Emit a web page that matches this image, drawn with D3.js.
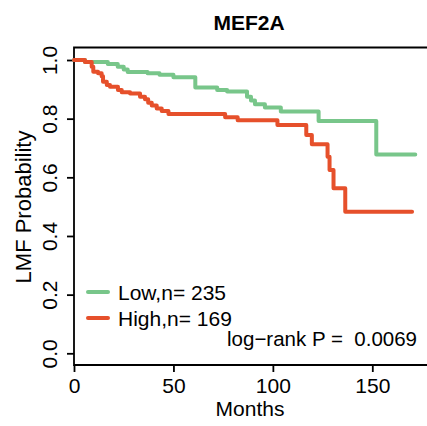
<!DOCTYPE html>
<meta charset="utf-8">
<html>
<head>
  <title>MEF2A</title>
  <script src="https://cdn.jsdelivr.net/npm/d3@7"></script>
  <style>
    body { margin: 0; background: #fff; }
    svg { font-family: 'Liberation Sans', Arial, sans-serif; }
  </style>
</head>
<body>
<script>

  // survival steps
  var lowTimes = [0, 5.5, 17, 22, 25, 27, 37, 43, 50, 61, 72, 77, 87, 89, 91, 96, 104, 123, 152, 171.6];
  var lowSurv  = [1.0, 0.993, 0.986, 0.977, 0.968, 0.959, 0.955, 0.950, 0.941, 0.906, 0.898, 0.893, 0.875, 0.862, 0.849, 0.838, 0.824, 0.792, 0.678, 0.678];

  var highTimes = [0, 5.5, 8.9, 9.7, 12.1, 13.9, 14.6, 16.5, 18.1, 22.1, 24, 28.2, 33.2, 35.7, 37.3, 39.1, 41.6, 44.1, 47.5, 76, 82.3, 102.3, 116.8, 119.6, 127.5, 128.5, 130.5, 136.4, 170];
  var highSurv  = [1.0, 0.993, 0.977, 0.960, 0.955, 0.945, 0.926, 0.915, 0.909, 0.898, 0.890, 0.886, 0.875, 0.866, 0.854, 0.845, 0.835, 0.826, 0.816, 0.805, 0.795, 0.778, 0.744, 0.713, 0.670, 0.625, 0.563, 0.483, 0.483];

  var xTicks = [0, 50, 100, 150];
  var yTicks = [0, 0.2, 0.4, 0.6, 0.8, 1.0];
  var groupNames = ["Low,n= 235", "High,n= 169"];
  var groupColors = ["#78c68a", "#e6502b"];

  var svg = d3.select("body").append("svg")
      .attr("width", 427)
      .attr("height", 426);

  var x = d3.scaleLinear().domain([0, 150]).range([74, 372.3]);
  var y = d3.scaleLinear().domain([0, 1]).range([353.3, 60]);

  //box (right side runs off the picture)
  svg.append("path")
      .attr("d", "M430,47.5H74V365H430")
      .attr("fill", "none")
      .attr("stroke", "#000")
      .attr("stroke-width", 1.8);

  //axes
  var xAxis = svg.append("g")
      .attr("transform", "translate(0,365)")
      .call(d3.axisBottom(x).tickValues(xTicks).tickSize(7).tickPadding(6).tickFormat(d3.format("d")));
  var yAxis = svg.append("g")
      .attr("transform", "translate(74,0)")
      .call(d3.axisLeft(y).tickValues(yTicks).tickSize(7).tickFormat(d3.format(".1f")));

  [xAxis, yAxis].forEach(function (a) {
    a.select(".domain").remove();
    a.selectAll("line").attr("stroke", "#000").attr("stroke-width", 1.8);
    a.selectAll("text").attr("font-size", 21).attr("fill", "#000")
      .attr("font-family", "'Liberation Sans', Arial, sans-serif");
  });

  yAxis.selectAll("text")
      .attr("x", null).attr("dy", null)
      .attr("text-anchor", "middle")
      .attr("transform", "translate(-17,0) rotate(-90)");

  //curves
  var line = d3.line()
      .x(function (d) { return x(d[0]); })
      .y(function (d) { return y(d[1]); })
      .curve(d3.curveStepAfter);

  var curves = [d3.zip(lowTimes, lowSurv), d3.zip(highTimes, highSurv)];

  svg.selectAll(".km")
      .data(curves)
      .enter()
        .append("path")
        .attr("class", "km")
        .attr("d", line)
        .attr("fill", "none")
        .attr("stroke", function (d, i) { return groupColors[i]; })
        .attr("stroke-width", 4)
        .attr("stroke-linejoin", "round")
        .attr("stroke-linecap", "round");

  //legend
  var leg = svg.selectAll(".leg")
      .data(groupNames)
      .enter()
        .append("g")
        .attr("class", "leg")
        .attr("transform", function (d, i) { return "translate(0," + (292 + i * 26) + ")"; });

  leg.append("line")
      .attr("x1", 88).attr("x2", 108)
      .attr("stroke", function (d, i) { return groupColors[i]; })
      .attr("stroke-width", 4)
      .attr("stroke-linecap", "round");

  leg.append("text")
      .attr("x", 118).attr("y", 7.5)
      .attr("font-size", 21)
      .text(function (d) { return d; });

  svg.append("text")
      .attr("x", 417).attr("y", 346)
      .attr("text-anchor", "end")
      .attr("font-size", 20.5)
      .style("white-space", "pre")
      .text("log\u2212rank P =  0.0069");

  //titles
  svg.append("text")
      .attr("x", 249).attr("y", 30)
      .attr("text-anchor", "middle")
      .attr("font-size", 21)
      .attr("font-weight", "bold")
      .text("MEF2A");

  svg.append("text")
      .attr("x", 250).attr("y", 416)
      .attr("text-anchor", "middle")
      .attr("font-size", 21)
      .text("Months");

  svg.append("text")
      .attr("transform", "translate(31,207) rotate(-90)")
      .attr("text-anchor", "middle")
      .attr("font-size", 22)
      .text("LMF Probability");

</script>
</body>
</html>
